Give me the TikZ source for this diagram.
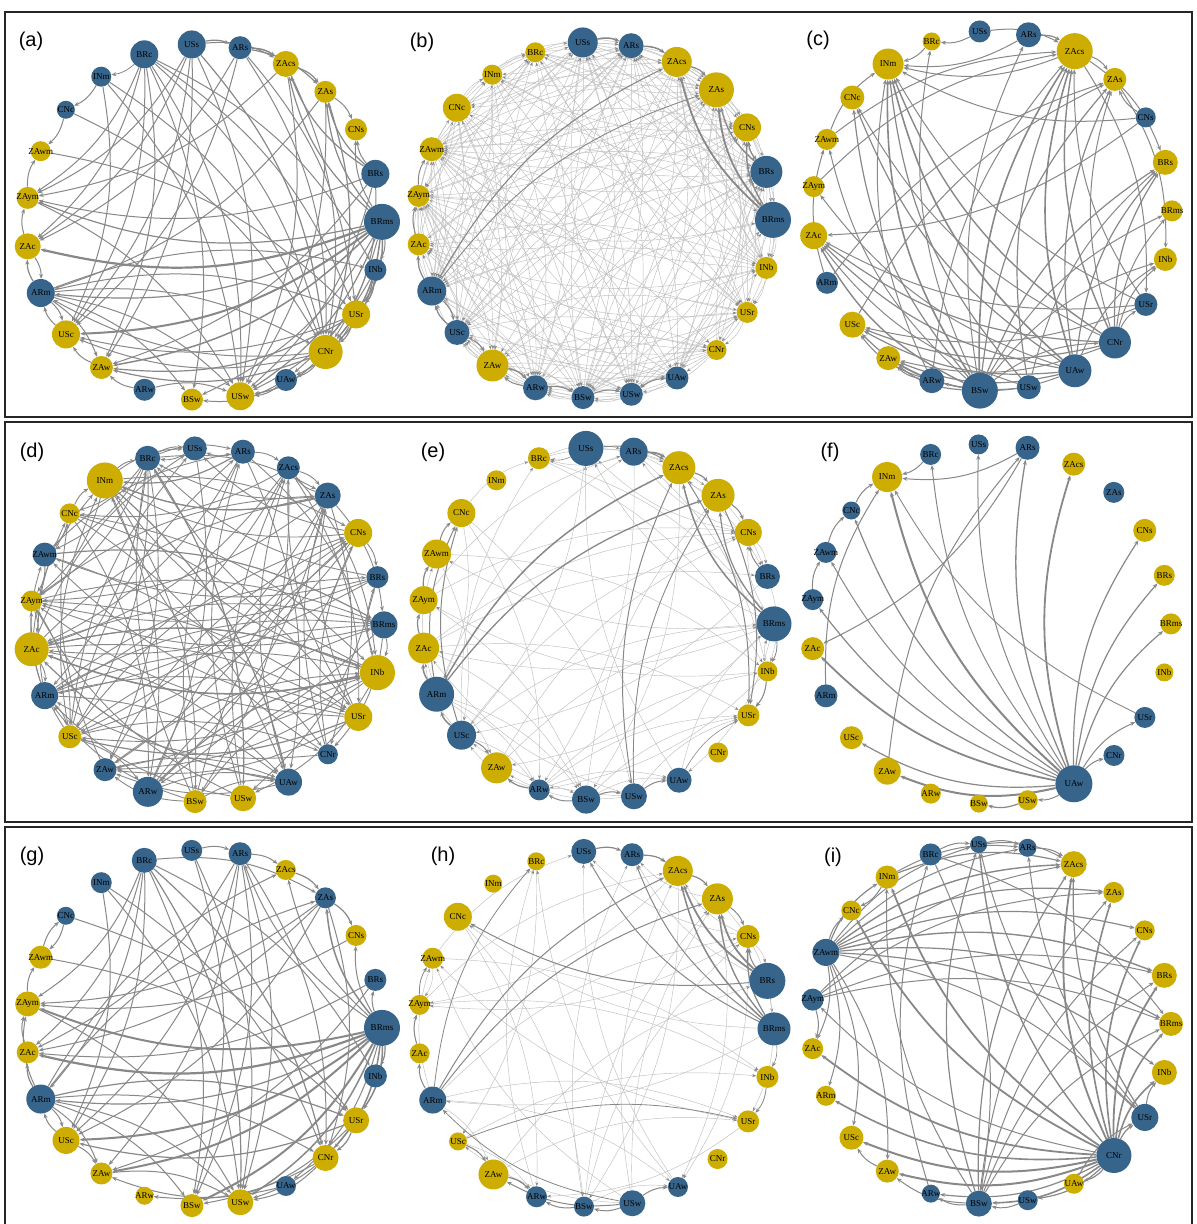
\documentclass[tikz,border=0pt]{standalone}
\usepackage{fontspec}
\setmainfont{Liberation Serif}
\newfontfamily\labfont{Liberation Sans}
\usetikzlibrary{arrows.meta}
\definecolor{nb}{HTML}{36648B}
\definecolor{ny}{HTML}{CDAD00}
\definecolor{eg}{HTML}{888888}
\definecolor{el}{HTML}{C0C0C0}
\pgfdeclarelayer{back}
\pgfdeclarelayer{bg}
\pgfsetlayers{back,bg,main}
\tikzset{
  vtx/.style={circle, inner sep=0pt, draw=none, text=black, font=\fontsize{9}{9}\selectfont},
  lnk/.style={draw=eg, line width=0.9pt, -{Stealth[length=5pt,width=4pt]}, bend left=17},
  lite/.style={draw=el, line width=0.45pt, -{Stealth[length=4pt,width=3pt,color=eg]}, bend left=17},
  plab/.style={font=\labfont\fontsize{20}{20}\selectfont, inner sep=0pt},
  frm/.style={draw=black!85, line width=1.2pt}
}
% ring of nodes: prefix, cx, cy, R, list name/colour/radius
\newcommand\mkring[5]{%
  \foreach \nm/\cc/\rad [count=\kk from 0] in {#5}{%
    \pgfmathsetmacro\ang{109.6-15.652*\kk}%
    \pgfmathsetmacro\dd{2*\rad}%
    \node[vtx, fill=\cc, minimum size=\dd pt, alias=#1-\kk] (#1-\nm)
      at ({#2+#4*cos(\ang)},{#3-#4*sin(\ang)}) {\makebox[0pt]{\nm}};
  }}
% listed connectors: prefix, style, list src/tgt/width
\newcommand\mkedges[3]{%
  \begin{pgfonlayer}{bg}
  \foreach \srcn/\tgtn/\wid in {#3}{\draw[#2, line width=\wid pt] (#1-\srcn) to (#1-\tgtn);}
  \end{pgfonlayer}}
% pseudo-random thin connectors: prefix, seed, prob, excl1, excl2, style
\newcommand\mkrand[6]{%
  \pgfmathsetseed{#2}%
  \begin{pgfonlayer}{bg}
  \foreach \ii in {0,...,22}{\foreach \jj in {0,...,22}{%
    \pgfmathsetmacro\rr{rnd}%
    \pgfmathtruncatemacro\okv{(\ii!=\jj)&&(\ii!=#4)&&(\jj!=#4)&&(\ii!=#5)&&(\jj!=#5)&&(\rr<#3)}%
    \ifnum\okv=1 \draw[#6] (#1-\ii) to (#1-\jj);\fi}}
  \end{pgfonlayer}}
\begin{document}
\begin{tikzpicture}[x=1pt,y=-1pt]
\useasboundingbox (0,0) rectangle (1197,1224);
\begin{pgfonlayer}{back}
\fill[white] (0,0) rectangle (1197,1224);
\end{pgfonlayer}
% frames
\draw[frm] (5,12) rectangle (1192,417);
\draw[frm] (5,422) rectangle (1192,822);
\draw[frm] (5,1228) -- (5,827) -- (1192,827) -- (1192,1228);
% panel labels
\node[plab] (la) at (31,41) {(a)};
\node[plab] (lb) at (422,42) {(b)};
\node[plab] (lc) at (818,40) {(c)};
\node[plab] (ld) at (32,452) {(d)};
\node[plab] (le) at (433,452) {(e)};
\node[plab] (lf) at (830,452) {(f)};
\node[plab] (lg) at (32,856) {(g)};
\node[plab] (lh) at (443,856) {(h)};
\node[plab] (li) at (833,857) {(i)};

% ===== (a)
\mkring{a}{204}{222}{178}{BRc/nb/14, USs/nb/14, ARs/nb/11.5, ZAcs/ny/13, ZAs/ny/11, CNs/ny/11, BRs/nb/14, BRms/nb/18, INb/nb/11, USr/ny/14, CNr/ny/17, UAw/nb/11, USw/ny/14, BSw/ny/11, ARw/nb/11, ZAw/ny/11.5, USc/ny/14, ARm/nb/14, ZAc/ny/13, ZAym/ny/11, ZAwm/ny/10, CNc/nb/9, INm/nb/10}
\mkedges{a}{lnk}{BRc/USw/1, BRc/CNr/1, BRc/ZAw/1, BRc/USc/1, BRc/ZAc/1, BRc/ZAym/1, BRc/INb/1, BRc/BSw/1, BRc/USr/1, BRc/INm/0.8,
USs/ZAc/1, USs/USc/1, USs/ZAw/1, USs/CNr/1.2, USs/USw/1, USs/ARs/1.2, USs/ZAcs/1, USs/ZAym/1,
ARs/ZAcs/1.5, ARs/ZAs/1.2, ARs/ZAc/1, ARs/USr/1, ARs/CNr/1, ARs/USc/1,
ZAcs/ZAs/1.2, ZAcs/ZAym/1, ZAcs/USw/1, ZAcs/CNr/1,
ZAs/CNs/1, ZAs/ARm/1, ZAs/CNr/1.2, ZAs/USw/1,
BRs/ZAs/1.2, BRs/ZAcs/1.2, BRs/CNs/1, BRs/CNr/1, BRs/USw/1, BRs/ZAym/1, BRs/ZAw/1,
BRms/ZAc/2.2, BRms/ZAym/1.2, BRms/USc/2, BRms/ZAw/1.5, BRms/ARm/1.2, BRms/CNr/1.5, BRms/USr/1.5, BRms/USw/1.2, BRms/BSw/1, BRms/CNs/1, BRms/ZAs/1.2, BRms/ZAcs/1.2, BRms/INb/1, BRms/UAw/1,
INb/USr/1.5, INb/CNr/1.2, INb/USw/1,
USr/CNr/1.2, USr/UAw/1, USr/USc/1, USr/ZAw/1.2,
CNr/USw/1.2, CNr/USc/1, CNr/ZAw/1.2, CNr/ARm/1, CNr/UAw/1,
UAw/USw/1, UAw/BSw/1, ARw/ZAw/1, ARw/USw/1, ZAw/USc/1, USc/ARm/1,
ARm/ZAc/1.2, ARm/USr/1, ARm/CNr/1, ARm/USw/1, ARm/BSw/1, ARm/ZAw/1, ARm/USc/1, ARm/INb/1,
ZAc/ZAym/1, ZAc/ARm/1, ZAym/ZAwm/1, ZAym/USw/1, ZAwm/USr/1,
CNc/CNr/1, CNc/ZAwm/1, INm/CNc/1, INm/CNr/1, INm/USw/1, INm/USc/1}

% ===== (b)
\mkring{b}{595}{220}{178}{BRc/ny/10, USs/nb/15, ARs/nb/12.5, ZAcs/ny/15, ZAs/ny/17.5, CNs/ny/14, BRs/nb/16, BRms/nb/18, INb/ny/11, USr/ny/10.5, CNr/ny/10, UAw/nb/11.5, USw/nb/11.5, BSw/nb/11.5, ARw/nb/12.5, ZAw/ny/16, USc/nb/12.5, ARm/nb/14.5, ZAc/ny/11, ZAym/ny/11, ZAwm/ny/12, CNc/ny/14, INm/ny/10}
\mkrand{b}{11}{0.45}{-1}{-1}{lite}
\mkedges{b}{lnk}{BRms/ZAcs/1.8, BRms/ZAs/1.8, BRms/CNs/1.4, BRs/CNs/1.2, BRs/ZAs/1.2, ARm/ZAcs/1.1, ARm/ZAs/0.9, USs/ARs/1.5, ARs/ZAcs/1.5, ZAcs/ZAs/1.2, ARm/ZAc/1.2, USc/ARm/1.2, ZAw/ARw/1.2, ARw/BSw/1.2, BSw/USw/1, USw/UAw/1, ZAc/ZAym/1, ZAym/ZAwm/1, ARm/USc/1, USc/ZAw/1, ARw/ZAw/1}

% ===== (c)
\mkring{c}{992}{211}{180}{BRc/ny/9, USs/nb/11, ARs/nb/12.5, ZAcs/ny/18, ZAs/ny/11.5, CNs/nb/10, BRs/ny/12.5, BRms/ny/10.5, INb/ny/11.5, USr/nb/11.5, CNr/nb/16, UAw/nb/16.5, USw/nb/12, BSw/nb/18, ARw/nb/12.5, ZAw/ny/12, USc/ny/13, ARm/nb/11, ZAc/ny/13.5, ZAym/ny/10.5, ZAwm/ny/10.5, CNc/ny/12, INm/ny/15.5}
\mkedges{c}{lnk}{BSw/INm/1.6, BSw/ZAcs/1.6, BSw/ZAs/1.2, BSw/BRs/1.2, BSw/BRms/1, BSw/INb/1, BSw/ZAc/1.4, BSw/USc/1.2, BSw/ZAw/1.2, BSw/CNc/1.2, BSw/ZAwm/1, BSw/BRc/1, BSw/ARs/1, BSw/CNr/1,
UAw/INm/1.6, UAw/ZAcs/1.6, UAw/ZAs/1.2, UAw/BRs/1.2, UAw/INb/1, UAw/ZAc/1.2, UAw/USc/1.2, UAw/ZAw/1.2, UAw/CNc/1.2, UAw/ZAym/1, UAw/ARw/1,
CNr/INm/1.4, CNr/ZAcs/1.4, CNr/ZAs/1, CNr/BRs/1.2, CNr/BRms/1, CNr/INb/1, CNr/USr/1, CNr/ZAc/1.2, CNr/USc/1.2, CNr/ZAw/1, CNr/CNc/1,
USw/INm/1.2, USw/ZAcs/1.2, USw/ZAc/1, USw/ZAw/1, USw/BRs/1,
ARw/INm/1, ARw/ZAcs/1, ARw/ZAw/1, ARw/USc/1,
USr/INm/1, USr/ZAcs/1, USr/ZAc/1, USr/USc/1,
ARm/ZAwm/1, ARm/ZAs/1, ZAym/ZAcs/1, ZAwm/ZAcs/1, ZAwm/INm/1,
USs/ZAcs/1, USs/BRc/1, ARs/ZAcs/1.2, ARs/INm/1, BRc/INm/1, ZAcs/INm/1, ZAcs/ZAs/1, ZAcs/BRs/1, CNs/INm/1, CNs/ZAc/1, CNs/ZAs/1, ZAs/INb/1, ZAcs/USr/1, USc/ZAs/1}

% ===== (d)
\mkring{d}{207}{625}{177}{BRc/nb/12.5, USs/nb/12, ARs/nb/12, ZAcs/nb/11.5, ZAs/nb/13, CNs/ny/14, BRs/nb/11, BRms/nb/13.5, INb/ny/17.5, USr/ny/14, CNr/nb/10, UAw/nb/13.5, USw/ny/13, BSw/ny/11.5, ARw/nb/15, ZAw/nb/11.5, USc/ny/11.5, ARm/nb/13.5, ZAc/ny/17, ZAym/ny/10.5, ZAwm/nb/12, CNc/ny/10, INm/ny/18}
\mkrand{d}{7}{0.22}{-1}{-1}{lnk}
\mkedges{d}{lnk}{INb/ZAc/1.5, ZAc/INb/1.2, ARs/INm/1.2, ZAwm/BRms/1.2, UAw/ZAc/1.2, USr/USc/1.2, ZAs/INm/1.2, INm/UAw/1.2, ARw/INb/1.2, BRc/USw/1.2}

% ===== (e)
\mkring{e}{598}{624}{176}{BRc/ny/11, USs/nb/17.5, ARs/nb/14, ZAcs/ny/16.5, ZAs/ny/16.5, CNs/ny/13.5, BRs/nb/12.5, BRms/nb/17.5, INb/ny/10, USr/ny/11, CNr/ny/10, UAw/nb/12.5, USw/nb/13, BSw/nb/14, ARw/nb/10.5, ZAw/ny/15.5, USc/nb/14.5, ARm/nb/17.5, ZAc/ny/15.5, ZAym/ny/14, ZAwm/ny/14.5, CNc/ny/14, INm/ny/10}
\mkrand{e}{5}{0.17}{10}{22}{lite}
\mkedges{e}{lnk}{ARm/ZAcs/1.5, ARm/ZAs/1.3, BRms/ZAcs/1.5, BRms/ZAs/1.2, USs/ZAcs/1, ARs/ZAcs/1.8, ZAcs/ZAs/1.2, ZAs/CNs/1, ZAcs/USr/1, ZAs/USr/1, INb/USr/1, BRms/INb/0.8, BRs/CNs/1, USc/ARm/1.5, ARm/ZAc/1.5, ZAc/ZAym/1.2, ZAym/ZAwm/1.2, ZAwm/CNc/1, ARw/ZAw/1.2, BSw/ARw/1, BSw/USw/1, USw/UAw/1, USc/ZAw/1, UAw/USr/0.6, USw/ZAcs/1, USw/ZAs/0.8, USc/CNc/1, ARm/CNc/1, USs/BRc/0.6}

% ===== (f)
\mkring{f}{991}{624}{180}{BRc/nb/10.5, USs/nb/10, ARs/nb/12, ZAcs/ny/11.5, ZAs/nb/10.5, CNs/ny/11.5, BRs/ny/10.5, BRms/ny/10.5, INb/ny/9, USr/nb/10.5, CNr/nb/10.5, UAw/nb/18.5, USw/ny/10, BSw/ny/9, ARw/ny/10, ZAw/ny/13.5, USc/ny/11.5, ARm/nb/11.5, ZAc/ny/11.5, ZAym/nb/10.5, ZAwm/nb/10.5, CNc/nb/9, INm/ny/15}
\mkedges{f}{lnk}{UAw/INm/2, UAw/BRc/1, UAw/USs/1, UAw/ARs/1.3, UAw/ZAcs/1.8, UAw/CNs/1.2, UAw/BRs/1.2, UAw/BRms/1.2, UAw/USr/1, UAw/CNr/1, UAw/USw/1, UAw/ZAw/2, UAw/USc/1.2, UAw/ZAc/1.8, UAw/ZAym/1.2, UAw/ZAwm/1, UAw/CNc/1.2, USr/INm/0.9, ARs/INm/1, BRc/INm/1, CNc/INm/1, ARm/INm/1, ZAym/ZAwm/1, ZAwm/CNc/1, ARs/ZAc/1, ZAw/ARs/1, USw/BSw/1.2}

% ===== (g)
\mkring{g}{204}{1028}{178}{BRc/nb/12.5, USs/nb/10.5, ARs/nb/11.5, ZAcs/ny/10, ZAs/nb/10.5, CNs/ny/10.5, BRs/nb/11, BRms/nb/18, INb/nb/11.5, USr/ny/13, CNr/ny/13, UAw/nb/10, USw/ny/13, BSw/ny/11.5, ARw/ny/9, ZAw/ny/11, USc/ny/13.5, ARm/nb/14.5, ZAc/ny/11, ZAym/ny/12.5, ZAwm/ny/11.5, CNc/nb/9, INm/nb/10.5}
\mkedges{g}{lnk}{BRms/ZAym/2, BRms/ZAc/2.2, BRms/ARm/1.2, BRms/USc/2, BRms/ZAw/2, BRms/BSw/2, BRms/USw/1.5, BRms/CNr/1.5, BRms/USr/1.5, BRms/INb/1.2, BRms/ZAs/1.5, BRms/CNs/1, BRms/ZAcs/1, BRms/ARs/1, BRms/BRs/1, BRms/UAw/1,
BRc/USw/1.2, BRc/CNr/1.2, BRc/BSw/1, BRc/USc/1, BRc/ZAc/1, BRc/ARm/1, BRc/ZAym/1, BRc/ZAs/1, BRc/INb/1,
ARs/ZAw/1, ARs/USc/1, ARs/ZAc/1, ARs/BSw/1, ARs/CNr/1, ARs/ZAcs/1, ARs/USw/1,
USs/ARs/1, USs/BSw/1, USs/USw/1, INm/USc/1, INm/USw/1, INm/CNr/1, CNc/ZAwm/1, CNc/USr/1,
ZAcs/ZAs/1.2, ZAs/CNs/1.2, ZAs/ZAym/1, ZAs/ZAc/1, ZAs/USc/1, ZAs/CNr/1, CNs/ZAym/1, BRs/ZAw/1, BRs/ZAc/1,
ARm/USr/1.2, ARm/CNr/1, ARm/USw/1, ARm/BSw/1, ARm/ZAc/1.2, ARm/ZAym/1, ARm/ZAw/1, ARm/USc/1, ARm/ZAcs/1, ARm/ZAs/1,
ZAc/ZAym/1, ZAym/ZAwm/1, ZAwm/CNc/1, USc/ZAw/1, USc/ARm/1,
CNr/USw/1, CNr/ARw/1, USr/CNr/1.2, USr/BSw/1, USr/USw/1, USr/USc/1.2, ZAw/USw/1, ZAym/USw/1, ZAwm/USr/1, UAw/ZAw/1}

% ===== (h)
\mkring{h}{596}{1029}{178}{BRc/ny/9, USs/nb/12.5, ARs/nb/11.5, ZAcs/ny/15, ZAs/ny/15.5, CNs/ny/11.5, BRs/nb/18, BRms/nb/16.5, INb/ny/11, USr/ny/11, CNr/ny/10, UAw/nb/10, USw/nb/13, BSw/nb/10, ARw/nb/10.5, ZAw/ny/15, USc/ny/9, ARm/nb/13.5, ZAc/ny/10, ZAym/ny/10, ZAwm/ny/10.5, CNc/ny/14, INm/ny/9}
\mkrand{h}{3}{0.13}{10}{22}{lite}
\mkedges{h}{lnk}{BRs/ZAcs/1.8, BRs/ZAs/1.8, BRms/ZAcs/1.5, BRms/ZAs/1.3, BRms/CNs/1.2, BRs/CNs/1, BRs/CNc/1, BRms/USs/1, BRms/ARs/1, ARm/ZAs/1, ARm/ZAcs/1, ARm/BRc/0.8, USs/ARs/1.2, ARs/ZAcs/1.2, ZAcs/ZAs/1.2, ZAs/CNs/1, USc/ZAw/1, ZAw/ARw/1.2, BSw/ARw/1, USw/BSw/1, USw/UAw/1, INb/USr/0.8, BRms/INb/0.6, USc/USr/0.8, ARm/ZAc/1, ZAc/ZAym/1, ZAym/ZAwm/0.8, USw/ZAw/1, USw/ARm/0.8}

% ===== (i)
\mkring{i}{991}{1024}{180}{BRc/nb/11, USs/nb/8.5, ARs/nb/9, ZAcs/ny/13, ZAs/ny/10.5, CNs/ny/10, BRs/ny/12.5, BRms/ny/12, INb/ny/12.5, USr/nb/13.5, CNr/nb/17.5, UAw/ny/10, USw/nb/10, BSw/nb/13, ARw/nb/9, ZAw/ny/11.5, USc/ny/12, ARm/ny/10, ZAc/ny/10.5, ZAym/nb/11, ZAwm/nb/13.5, CNc/ny/10, INm/ny/11.5}
\mkedges{i}{lnk}{CNr/ZAcs/1.8, CNr/ZAs/1.6, CNr/CNs/1.6, CNr/BRs/1.8, CNr/BRms/1.6, CNr/INb/1.6, CNr/USr/1.2, CNr/INm/1.8, CNr/CNc/1.8, CNr/ZAc/1.8, CNr/ARm/1.6, CNr/USc/2, CNr/ZAw/2, CNr/ARw/1.2, CNr/BSw/1.6, CNr/USw/1.2, CNr/UAw/1.2, CNr/USs/1.4, CNr/ZAym/1,
ZAwm/INm/1.2, ZAwm/CNc/1, ZAwm/ZAcs/1.4, ZAwm/ZAs/1.2, ZAwm/CNs/1.2, ZAwm/BRs/1.4, ZAwm/BRms/1.2, ZAwm/INb/1.2, ZAwm/ZAw/1, ZAwm/USc/1, ZAwm/ARm/1, ZAwm/ZAc/1, ZAwm/USs/1, ZAwm/ARs/1, ZAwm/USr/1,
ZAym/BRs/1, ZAym/BRms/1, ZAym/ZAs/1, ZAym/ZAc/1, ZAym/ZAcs/1,
BSw/ZAcs/1.2, BSw/ZAs/1, BSw/CNs/1, BSw/USs/1.2, BSw/BRs/1, BSw/INm/1, BSw/ARw/1, BSw/ZAw/1, BSw/BRms/1,
USw/BSw/1, BRc/USs/1, BRc/BRms/1, BRc/BSw/1, USr/USs/1, USr/ARs/1, USr/ZAcs/1.2, USr/INb/1, INm/ZAcs/1.2, INm/ARs/1, ARw/BRc/1, USs/ARs/1, USs/ZAcs/1, ARs/ZAcs/1, ZAw/USc/1, UAw/USr/1, INm/CNc/1}
\end{tikzpicture}
\end{document}
